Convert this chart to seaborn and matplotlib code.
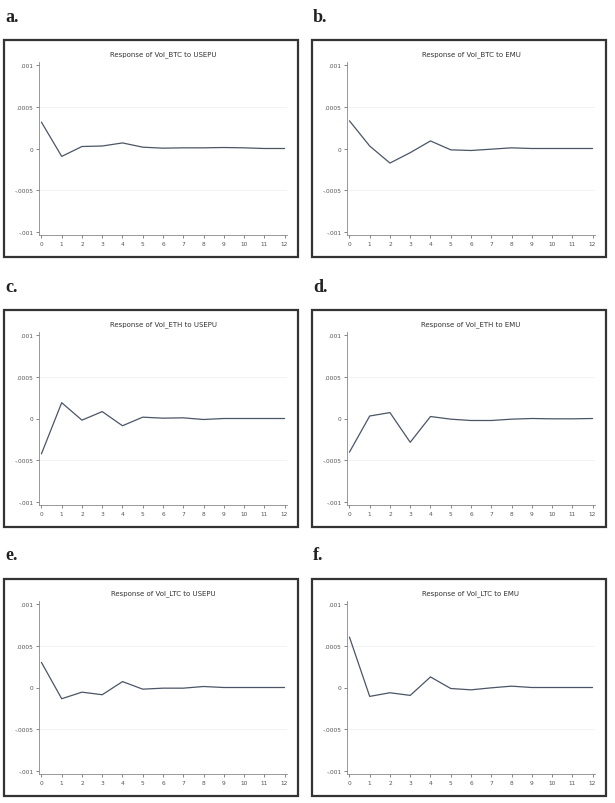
import numpy as np
import pandas as pd
import seaborn as sns
import matplotlib.pyplot as plt
from matplotlib.patches import Rectangle

# impulse response values (steps 0..12)
steps = list(range(13))
btc_usepu = [0.000317, -0.000095, 0.000024, 0.00003, 0.000067, 0.000016, 0.000004,
             0.000008, 0.000008, 0.000012, 0.000008, 0.0, 0.0]
btc_emu = [0.000333, 0.00003, -0.000175, -0.00005, 0.000091, -0.000016, -0.000024,
           -0.000008, 0.000008, 0.0, 0.0, 0.0, 0.0]
eth_usepu = [-0.000425, 0.00019, -0.00002, 0.000083, -0.000087, 0.000016, 0.000004,
             0.000008, -0.000012, 0.0, 0.0, 0.0, 0.0]
eth_emu = [-0.000405, 0.00003, 0.000071, -0.000286, 0.000024, -0.000008, -0.000024,
           -0.000024, -0.000008, 0.0, -0.000004, -0.000004, 0.0]
ltc_usepu = [0.000302, -0.000135, -0.000056, -0.000087, 0.000071, -0.00002, -0.000008,
             -0.000008, 0.000012, 0.0, 0.0, 0.0, 0.0]
ltc_emu = [0.000607, -0.000107, -0.000063, -0.000095, 0.000127, -0.000012, -0.000028,
           -0.000004, 0.000016, 0.0, 0.0, 0.0, 0.0]

titles = ["Response of Vol_BTC to USEPU", "Response of Vol_BTC to EMU",
          "Response of Vol_ETH to USEPU", "Response of Vol_ETH to EMU",
          "Response of Vol_LTC to USEPU", "Response of Vol_LTC to EMU"]
letters = ["a.", "b.", "c.", "d.", "e.", "f."]
series = [btc_usepu, btc_emu, eth_usepu, eth_emu, ltc_usepu, ltc_emu]
yticks = [-0.001, -0.0005, 0, 0.0005, 0.001]
yticklabels = ["-.001", "-.0005", "0", ".0005", ".001"]

sns.set_theme(style="white")
plt.rcParams['font.family'] = ['DejaVu Sans']

W, H = 615, 804
fig = plt.figure(figsize=(W / 100, H / 100), dpi=100)

def fx(px):
    return px / W

def fy(py):
    return 1 - py / H

box_left = [4, 312]
box_top = [41, 311, 580]
box_w, box_h = 294, 217

for i in range(6):
    r, c = i // 2, i % 2
    bx, by = box_left[c], box_top[r]

    # panel frame
    fig.patches.append(Rectangle((fx(bx), fy(by + box_h)), box_w / W, box_h / H,
                                 transform=fig.transFigure, fill=False,
                                 edgecolor="#333333", linewidth=1.6))
    fig.text(fx(bx + 1), fy(by - 24), letters[i], family="Liberation Serif",
             fontweight="bold", fontsize=13, va="center", ha="left", color="#222222")

    ax_l, ax_r = bx + 35, bx + 283
    ax_t, ax_b = by + 22, by + 195
    ax = fig.add_axes([fx(ax_l), fy(ax_b), (ax_r - ax_l) / W, (ax_b - ax_t) / H])

    df = pd.DataFrame({"step": steps, "resp": series[i]})
    sns.lineplot(data=df, x="step", y="resp", ax=ax, color="#4a5566", linewidth=0.9)

    for yv in [-0.0005, 0.0005]:
        ax.axhline(yv, color="#eef0f2", linewidth=0.6, zorder=0)

    ax.set_xlim(-0.12, 12.12)
    ax.set_ylim(-0.00104, 0.00104)
    ax.set_xticks(steps)
    ax.set_xticklabels([str(s) for s in steps])
    ax.set_yticks(yticks)
    ax.set_yticklabels(yticklabels)
    ax.set_xlabel("")
    ax.set_ylabel("")
    ax.set_title(titles[i], fontsize=5, color="#333333", pad=5)
    ax.tick_params(axis="both", labelsize=4.2, colors="#555555", length=2,
                   width=0.5, pad=2, left=True, bottom=True)
    for s in ["top", "right"]:
        ax.spines[s].set_visible(False)
    for s in ["left", "bottom"]:
        ax.spines[s].set_color("#888888")
        ax.spines[s].set_linewidth(0.6)
    ax.patch.set_alpha(0)

fig.savefig("out.png", dpi=100)
